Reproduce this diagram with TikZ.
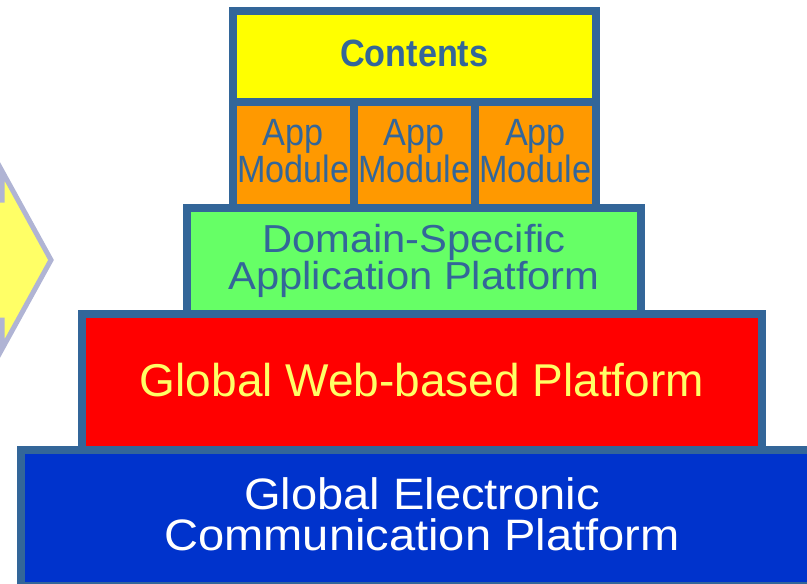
\documentclass[tikz,border=0pt]{standalone}
\usepackage{fontspec}
\setmainfont{Liberation Sans}
\newfontfamily\anchafont[FakeStretch=1.07]{Liberation Sans}
\newfontfamily\estrechafont[FakeStretch=0.9]{Liberation Sans}
\usetikzlibrary{positioning}
\definecolor{borde}{RGB}{51,102,153}
\definecolor{amarillo}{RGB}{255,255,0}
\definecolor{naranja}{RGB}{255,153,0}
\definecolor{verde}{RGB}{102,255,102}
\definecolor{rojo}{RGB}{255,0,0}
\definecolor{azul}{RGB}{0,51,204}
\definecolor{textoclaro}{RGB}{255,255,102}
\definecolor{bordeflecha}{RGB}{176,180,212}
\definecolor{rellenoflecha}{RGB}{255,255,102}
\begin{document}
\begin{tikzpicture}[x=1pt,y=-1pt]
\tikzstyle{capa}=[draw=borde,line width=8pt,inner sep=0pt,outer sep=0pt,align=center]% cada capa de la piramide
\tikzstyle{modulo}=[capa,fill=naranja,text=borde,minimum width=121.2pt,minimum height=106pt,text depth=8pt,font=\estrechafont\fontsize{38}{32}\selectfont]
\tikzstyle{flecha}=[draw=bordeflecha,fill=rellenoflecha,line width=5pt,line join=miter]
\clip (0,0) rectangle (807,584);
\draw[flecha] (-40,200) -- (2,200) -- (2,171) -- (51,260) -- (2,349) -- (2,320) -- (-40,320) -- cycle;% flecha izquierda
\node[capa,fill=azul,text=white,minimum width=802pt,minimum height=136pt,text depth=8pt,
  font=\anchafont\fontsize{44}{41}\selectfont] (comunicacion) at (422,518) {Global Electronic\\Communication Platform};
\node[capa,fill=rojo,text=textoclaro,minimum width=680pt,minimum height=136pt,text depth=4pt,
  font=\fontsize{46}{46}\selectfont] (web) at (422,382) {Global Web-based Platform};
\node[capa,fill=verde,text=borde,minimum width=454pt,minimum height=106pt,
  font=\anchafont\fontsize{39}{36}\selectfont] (dominio) at (414,261) {Domain-Specific\\Application Platform};
\node[modulo] (app1) at (293.1,155) {App\\Module};
\node[modulo,right=0pt of app1] (app2) {App\\Module};
\node[modulo,right=0pt of app2] (app3) {App\\Module};
\node[capa,fill=amarillo,text=borde,minimum width=363.6pt,minimum height=91pt,text depth=6pt,
  font=\estrechafont\bfseries\fontsize{38}{38}\selectfont] (contenidos) at (414.3,56.5) {Contents};
\end{tikzpicture}
\end{document}
